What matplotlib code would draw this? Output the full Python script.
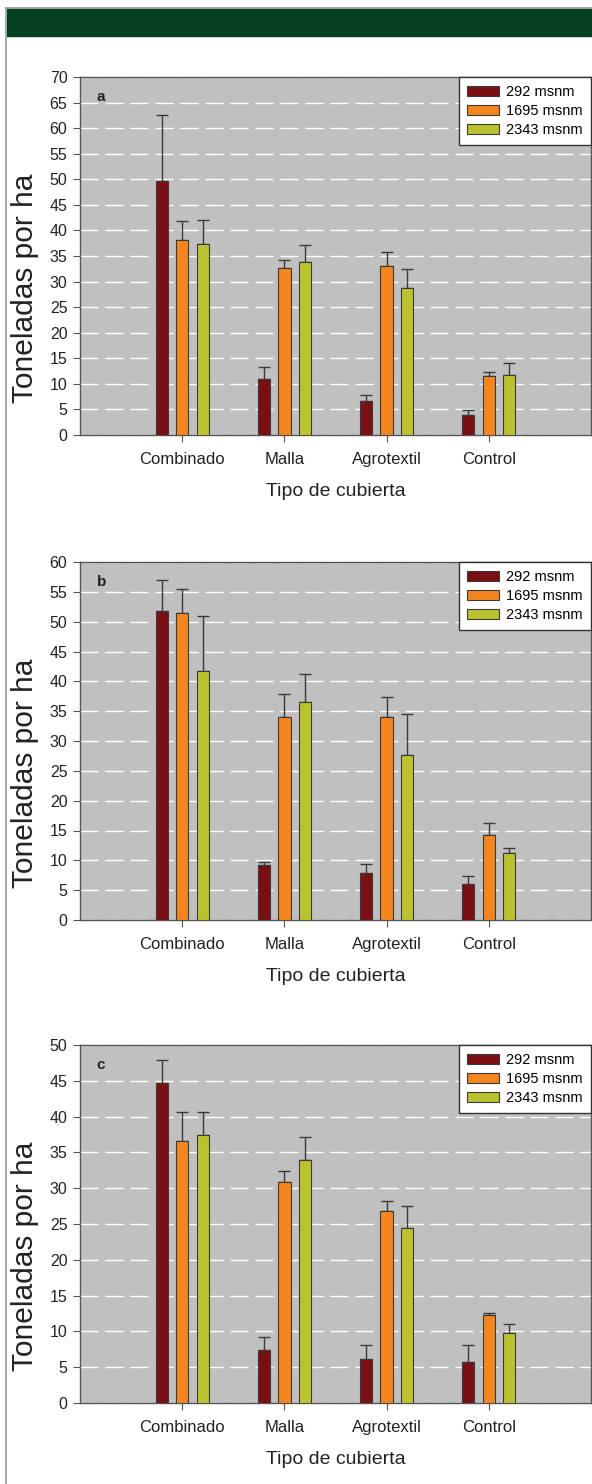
import numpy as np
import matplotlib

matplotlib.use("Agg")
import matplotlib.pyplot as plt
from matplotlib.patches import Rectangle
from matplotlib.lines import Line2D

plt.rcParams["font.family"] = ["Liberation Sans", "DejaVu Sans"]

categories = ["Combinado", "Malla", "Agrotextil", "Control"]
series = ["292 msnm", "1695 msnm", "2343 msnm"]
colors = ["#7b1014", "#f5861f", "#bcc12e"]

# panel a
a_292 = [49.6, 10.9, 6.6, 4.0]
a_292_top = [62.6, 13.2, 7.8, 4.8]
a_1695 = [38.2, 32.6, 33.0, 11.5]
a_1695_top = [41.9, 34.3, 35.8, 12.4]
a_2343 = [37.4, 33.8, 28.8, 11.7]
a_2343_top = [42.1, 37.1, 32.4, 14.0]

# panel b
b_292 = [51.8, 9.2, 7.9, 6.0]
b_292_top = [57.0, 9.8, 9.4, 7.3]
b_1695 = [51.5, 34.0, 34.1, 14.2]
b_1695_top = [55.4, 37.8, 37.3, 16.3]
b_2343 = [41.7, 36.5, 27.7, 11.2]
b_2343_top = [51.0, 41.3, 34.6, 12.0]

# panel c
c_292 = [44.7, 7.4, 6.2, 5.7]
c_292_top = [47.9, 9.2, 8.1, 8.1]
c_1695 = [36.6, 30.8, 26.8, 12.3]
c_1695_top = [40.6, 32.4, 28.2, 12.6]
c_2343 = [37.5, 33.9, 24.4, 9.8]
c_2343_top = [40.7, 37.2, 27.5, 11.0]

panels = [
    ("a", 70, [a_292, a_1695, a_2343], [a_292_top, a_1695_top, a_2343_top]),
    ("b", 60, [b_292, b_1695, b_2343], [b_292_top, b_1695_top, b_2343_top]),
    ("c", 50, [c_292, c_1695, c_2343], [c_292_top, c_1695_top, c_2343_top]),
]

W, H = 592, 1484
fig = plt.figure(figsize=(W / 100, H / 100), dpi=100)

# page frame + green header band
fig.add_artist(Line2D([6 / W, 6 / W], [0, 1 - 8 / H], color="#9a9a9a", lw=1.2))
fig.add_artist(Line2D([6 / W, 1], [1 - 8 / H, 1 - 8 / H], color="#9a9a9a", lw=1.2))
fig.add_artist(Rectangle((7 / W, 1 - 36 / H), 1 - 7 / W, 27 / H,
                         color="#033f21", transform=fig.transFigure))

tops = [77, 562, 1045]
ax_h = 358
x = np.arange(len(categories))
offsets = [-0.2, 0.0, 0.2]

for (letter, ymax, vals, tops_err), top in zip(panels, tops):
    ax = fig.add_axes([80 / W, 1 - (top + ax_h) / H, 511 / W, ax_h / H])
    ax.set_facecolor("#c0c0c0")
    for i in range(3):
        v = np.array(vals[i])
        err = np.array(tops_err[i]) - v
        ax.bar(x + offsets[i], v, width=0.12, color=colors[i],
               edgecolor="#3a3a3a", linewidth=0.8, label=series[i], zorder=3)
        ax.errorbar(x + offsets[i], v, yerr=[np.zeros_like(err), err],
                    fmt="none", ecolor="#3a3a3a", elinewidth=1.0,
                    capsize=4.5, capthick=1.0, zorder=2)
    ax.set_xlim(-1, 4)
    ax.set_ylim(0, ymax)
    ax.set_yticks(np.arange(0, ymax + 1, 5))
    ax.set_xticks(x)
    ax.set_xticklabels(categories)
    ax.yaxis.grid(True, color="white", lw=1.0, linestyle=(0, (13, 5)), zorder=1)
    ax.set_axisbelow(True)
    for s in ax.spines.values():
        s.set_color("#555555")
        s.set_linewidth(1.0)
    ax.tick_params(axis="both", direction="out", length=5, width=0.8,
                   color="#555555", labelsize=11.5, labelcolor="#222222", pad=4)
    ax.tick_params(axis="x", labelsize=12, pad=7)
    ax.set_xlabel("Tipo de cubierta", fontsize=14, color="#222222", labelpad=12)
    ax.set_ylabel("Toneladas por ha", fontsize=21.5, color="#222222")
    ax.yaxis.set_label_coords(-0.08, 0.41)
    ax.text(0.033, 0.965, letter, transform=ax.transAxes, fontsize=11,
            fontweight="bold", va="top", ha="left", color="#222222")
    leg = ax.legend(loc="upper right", borderaxespad=0, fancybox=False,
                    fontsize=10.5, handlelength=2.2, handleheight=0.75,
                    handletextpad=0.5, labelspacing=0.35, borderpad=0.55,
                    framealpha=1)
    leg.get_frame().set_edgecolor("#333333")
    leg.get_frame().set_linewidth(1.0)

fig.savefig("out.png", dpi=100)
